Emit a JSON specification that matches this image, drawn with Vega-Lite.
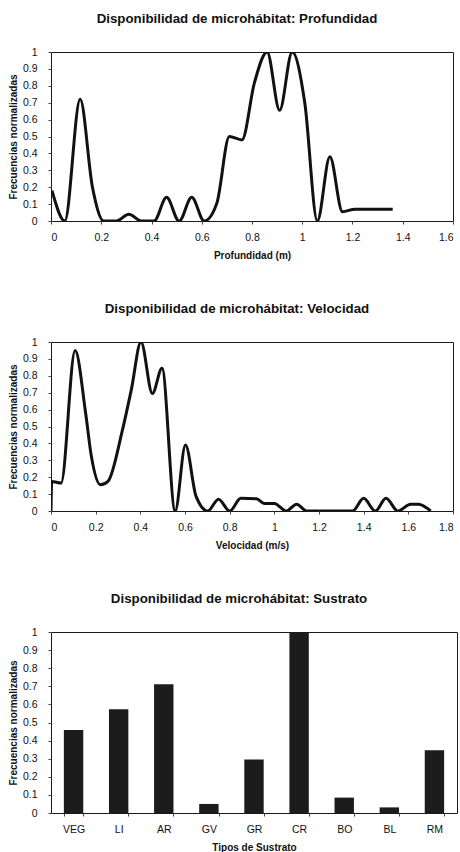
{
  "$schema": "https://vega.github.io/schema/vega-lite/v6.json",
  "padding": {"left": 7, "top": 11, "right": 0, "bottom": 0},
  "background": "white",
  "datasets": {
    "prof": [
      {"x": 0.004, "y": 0.18}, {"x": 0.055, "y": 0}, {"x": 0.116, "y": 0.72}, {"x": 0.165, "y": 0.2},
      {"x": 0.21, "y": 0}, {"x": 0.26, "y": 0}, {"x": 0.31, "y": 0.04}, {"x": 0.36, "y": 0},
      {"x": 0.41, "y": 0}, {"x": 0.46, "y": 0.14}, {"x": 0.51, "y": 0}, {"x": 0.56, "y": 0.14},
      {"x": 0.61, "y": 0}, {"x": 0.66, "y": 0.105}, {"x": 0.71, "y": 0.5}, {"x": 0.76, "y": 0.48},
      {"x": 0.81, "y": 0.82}, {"x": 0.86, "y": 1.0}, {"x": 0.91, "y": 0.655}, {"x": 0.96, "y": 1.0},
      {"x": 1.01, "y": 0.7}, {"x": 1.06, "y": 0}, {"x": 1.11, "y": 0.38}, {"x": 1.16, "y": 0.055},
      {"x": 1.21, "y": 0.07}, {"x": 1.26, "y": 0.07}, {"x": 1.31, "y": 0.07}, {"x": 1.36, "y": 0.07}
    ],
    "vel": [
      {"x": 0, "y": 0}, {"x": 0.003, "y": 0.175}, {"x": 0.045, "y": 0.165}, {"x": 0.108, "y": 0.95},
      {"x": 0.155, "y": 0.58}, {"x": 0.18, "y": 0.33}, {"x": 0.222, "y": 0.155}, {"x": 0.255, "y": 0.175},
      {"x": 0.32, "y": 0.48}, {"x": 0.36, "y": 0.72}, {"x": 0.403, "y": 1.0}, {"x": 0.454, "y": 0.695},
      {"x": 0.497, "y": 0.845}, {"x": 0.556, "y": 0}, {"x": 0.602, "y": 0.39}, {"x": 0.65, "y": 0.085},
      {"x": 0.702, "y": 0}, {"x": 0.75, "y": 0.07}, {"x": 0.8, "y": 0}, {"x": 0.85, "y": 0.075},
      {"x": 0.92, "y": 0.072}, {"x": 0.955, "y": 0.045}, {"x": 1.0, "y": 0.045}, {"x": 1.053, "y": 0},
      {"x": 1.1, "y": 0.04}, {"x": 1.145, "y": 0}, {"x": 1.35, "y": 0}, {"x": 1.4, "y": 0.075},
      {"x": 1.452, "y": 0}, {"x": 1.5, "y": 0.075}, {"x": 1.553, "y": 0}, {"x": 1.61, "y": 0.04},
      {"x": 1.645, "y": 0.04}, {"x": 1.7, "y": 0}
    ],
    "sus": [
      {"tipo": "VEG", "f": 0.458}, {"tipo": "LI", "f": 0.573}, {"tipo": "AR", "f": 0.712},
      {"tipo": "GV", "f": 0.05}, {"tipo": "GR", "f": 0.296}, {"tipo": "CR", "f": 1.0},
      {"tipo": "BO", "f": 0.085}, {"tipo": "BL", "f": 0.031}, {"tipo": "RM", "f": 0.346}
    ]
  },
  "config": {
    "font": "Liberation Sans",
    "view": {"stroke": "#1a1a1a", "strokeWidth": 1},
    "title": {"fontSize": 13.3, "fontWeight": "bold", "color": "#111111", "anchor": "middle", "frame": "group", "dx": -15, "offset": 22},
    "axis": {"grid": false, "domain": false, "labelFont": "Liberation Sans", "labelFontSize": 10.5, "labelColor": "#111111", "titleFont": "Liberation Sans", "titleFontSize": 10, "titleFontWeight": "bold", "titleColor": "#111111", "tickColor": "#444444", "tickSize": 3},
    "axisX": {"labelPadding": 8, "titlePadding": 8},
    "axisY": {"labelPadding": 11, "titlePadding": 4},
    "concat": {"spacing": 40}
  },
  "vconcat": [
    {
      "width": 402, "height": 169,
      "title": "Disponibilidad de microhábitat: Profundidad",
      "data": {"name": "prof"},
      "mark": {"type": "line", "interpolate": "monotone", "color": "#111111", "strokeWidth": 3, "clip": true},
      "encoding": {
        "x": {"field": "x", "type": "quantitative", "scale": {"domain": [0, 1.6], "nice": false},
              "axis": {"values": [0, 0.2, 0.4, 0.6, 0.8, 1, 1.2, 1.4, 1.6], "format": "~g", "title": "Profundidad (m)"}},
        "y": {"field": "y", "type": "quantitative", "scale": {"domain": [0, 1], "nice": false},
              "axis": {"values": [0, 0.1, 0.2, 0.3, 0.4, 0.5, 0.6, 0.7, 0.8, 0.9, 1], "format": "~g", "title": "Frecuencias normalizadas"}}
      }
    },
    {
      "width": 402, "height": 169,
      "title": "Disponibilidad de microhábitat: Velocidad",
      "data": {"name": "vel"},
      "mark": {"type": "line", "interpolate": "monotone", "color": "#111111", "strokeWidth": 3, "clip": true},
      "encoding": {
        "x": {"field": "x", "type": "quantitative", "scale": {"domain": [0, 1.8], "nice": false},
              "axis": {"values": [0, 0.2, 0.4, 0.6, 0.8, 1, 1.2, 1.4, 1.6, 1.8], "format": "~g", "title": "Velocidad (m/s)"}},
        "y": {"field": "y", "type": "quantitative", "scale": {"domain": [0, 1], "nice": false},
              "axis": {"values": [0, 0.1, 0.2, 0.3, 0.4, 0.5, 0.6, 0.7, 0.8, 0.9, 1], "format": "~g", "title": "Frecuencias normalizadas"}}
      }
    },
    {
      "width": 406, "height": 181,
      "title": "Disponibilidad de microhábitat: Sustrato",
      "data": {"name": "sus"},
      "mark": {"type": "bar", "color": "#1c1c1c"},
      "encoding": {
        "x": {"field": "tipo", "type": "nominal", "sort": null,
              "scale": {"paddingInner": 0.57, "paddingOuter": 0.285},
              "axis": {"labelAngle": 0, "tickBand": "extent", "title": "Tipos de Sustrato"}},
        "y": {"field": "f", "type": "quantitative", "scale": {"domain": [0, 1], "nice": false},
              "axis": {"values": [0, 0.1, 0.2, 0.3, 0.4, 0.5, 0.6, 0.7, 0.8, 0.9, 1], "format": "~g", "title": "Frecuencias normalizadas"}}
      }
    }
  ]
}
